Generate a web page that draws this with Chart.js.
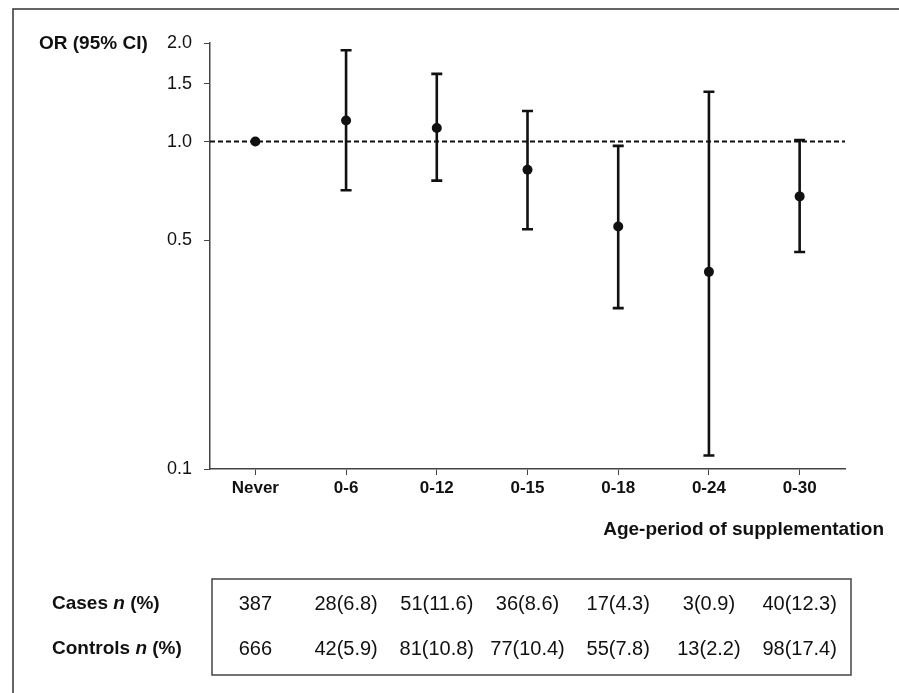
<!DOCTYPE html>
<html>
<head>
<meta charset="utf-8">
<script src="https://cdn.jsdelivr.net/npm/chart.js@4.4.1/dist/chart.umd.min.js"></script>
<style>
    html, body { margin: 0; padding: 0; background: #fff; }
    #wrap { width: 899px; height: 693px; position: relative; }
</style>
</head>
<body>
<div id="wrap"><canvas id="orChart" width="899" height="693"></canvas></div>
<script>
// Data
const categories = ['Never', '0-6', '0-12', '0-15', '0-18', '0-24', '0-30'];
const oddsRatios = [1.00, 1.16, 1.10, 0.82, 0.55, 0.40, 0.68];
const ciLower = [null, 0.71, 0.76, 0.54, 0.31, 0.11, 0.46];
const ciUpper = [null, 1.90, 1.61, 1.24, 0.97, 1.42, 1.01];
const yTickValues = [0.1, 0.5, 1.0, 1.5, 2.0];
const casesRow = ['387', '28(6.8)', '51(11.6)', '36(8.6)', '17(4.3)', '3(0.9)', '40(12.3)'];
const controlsRow = ['666', '42(5.9)', '81(10.8)', '77(10.4)', '55(7.8)', '13(2.2)', '98(17.4)'];

const FONT = "'Liberation Sans', Arial, sans-serif";
const INK = '#111';

// Reference line at OR = 1 and the CI whiskers
const errorBarPlugin = {
    id: 'errorBars',
    beforeDatasetsDraw(chart) {
        const { ctx, chartArea, scales } = chart;
        const x = scales.x, y = scales.y;

        ctx.save();
        ctx.strokeStyle = INK;
        ctx.lineWidth = 2;
        ctx.setLineDash([5, 3]);
        const y1 = y.getPixelForValue(1);
        ctx.beginPath();
        ctx.moveTo(chartArea.left, y1);
        ctx.lineTo(chartArea.right, y1);
        ctx.stroke();
        ctx.setLineDash([]);

        ctx.lineWidth = 2.6;
        categories.forEach((c, i) => {
            if (ciLower[i] == null) return;
            const px = x.getPixelForValue(i);
            const top = y.getPixelForValue(ciUpper[i]);
            const bot = y.getPixelForValue(ciLower[i]);
            ctx.beginPath();
            ctx.moveTo(px, top);
            ctx.lineTo(px, bot);
            ctx.moveTo(px - 5.5, top);
            ctx.lineTo(px + 5.5, top);
            ctx.moveTo(px - 5.5, bot);
            ctx.lineTo(px + 5.5, bot);
            ctx.stroke();
        });
        ctx.restore();
    }
};

// Frame, titles and the counts table underneath
const annotationPlugin = {
    id: 'annotations',
    afterDraw(chart) {
        const { ctx, scales } = chart;
        const x = scales.x;

        ctx.save();
        ctx.strokeStyle = '#333';
        ctx.lineWidth = 1.5;
        ctx.strokeRect(13, 9, 1000, 1000);

        ctx.fillStyle = INK;
        ctx.textBaseline = 'middle';
        ctx.font = `bold 19px ${FONT}`;
        ctx.textAlign = 'left';
        ctx.fillText('OR (95% CI)', 39, 44);

        ctx.textAlign = 'right';
        ctx.fillText('Age-period of supplementation', 884, 530);

        // table box
        ctx.strokeStyle = '#444';
        ctx.strokeRect(212, 579, 639, 96);

        const rows = [
            { name: 'Cases', y: 604, values: casesRow },
            { name: 'Controls', y: 649, values: controlsRow }
        ];
        rows.forEach(row => {
            let cx = 52;
            ctx.textAlign = 'left';
            ctx.font = `bold 19px ${FONT}`;
            ctx.fillText(row.name + ' ', cx, row.y);
            cx += ctx.measureText(row.name + ' ').width;
            ctx.font = `italic bold 19px ${FONT}`;
            ctx.fillText('n', cx, row.y);
            cx += ctx.measureText('n').width;
            ctx.font = `bold 19px ${FONT}`;
            ctx.fillText(' (%)', cx, row.y);

            ctx.font = `20px ${FONT}`;
            ctx.textAlign = 'center';
            row.values.forEach((v, i) => {
                ctx.fillText(v, x.getPixelForValue(i), row.y);
            });
        });
        ctx.restore();
    }
};

new Chart(document.getElementById('orChart'), {
    type: 'line',
    data: {
        labels: categories,
        datasets: [{
            label: 'OR',
            data: oddsRatios,
            showLine: false,
            pointRadius: 5,
            pointHoverRadius: 5,
            pointBackgroundColor: INK,
            pointBorderColor: INK,
            pointBorderWidth: 0
        }]
    },
    options: {
        responsive: false,
        animation: false,
        events: [],
        layout: { padding: { top: 43, right: 54, bottom: 0, left: 0 } },
        plugins: {
            legend: { display: false },
            tooltip: { enabled: false }
        },
        scales: {
            x: {
                type: 'category',
                offset: true,
                grid: { drawOnChartArea: false, drawTicks: true, tickLength: 6, color: '#444', offset: false },
                border: { display: true, color: '#444', width: 1.5 },
                ticks: { color: INK, font: { family: FONT, size: 17, weight: 'bold' }, padding: 3, maxRotation: 0 },
                afterFit(scale) { scale.height = 224; }
            },
            y: {
                type: 'logarithmic',
                min: 0.1,
                max: 2.0,
                grid: { drawOnChartArea: false, drawTicks: true, tickLength: 6, color: '#444' },
                border: { display: true, color: '#444', width: 1.5 },
                ticks: {
                    color: INK,
                    font: { family: FONT, size: 18 },
                    padding: 12,
                    autoSkip: false,
                    callback: v => Number(v).toFixed(1)
                },
                afterBuildTicks(scale) {
                    scale.ticks = yTickValues.map(v => ({ value: v }));
                },
                afterFit(scale) { scale.width = 210; }
            }
        }
    },
    plugins: [errorBarPlugin, annotationPlugin]
});
</script>
</body>
</html>
